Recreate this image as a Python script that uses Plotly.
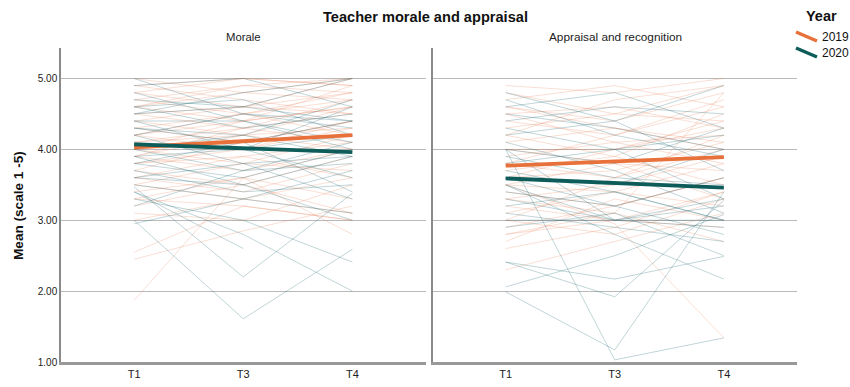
import plotly.graph_objects as go
from plotly.subplots import make_subplots

# ---------------- data ----------------
times = ["T1", "T3", "T4"]
panels = ["Morale", "Appraisal and recognition"]
years = ["2019", "2020"]
y_ticks = [1, 2, 3, 4, 5]
y_tick_labels = ["1.00", "2.00", "3.00", "4.00", "5.00"]

# group means (thick lines)
mean_morale_2019 = [4.03, 4.12, 4.20]
mean_morale_2020 = [4.07, 4.02, 3.96]
mean_appraisal_2019 = [3.77, 3.83, 3.89]
mean_appraisal_2020 = [3.59, 3.53, 3.46]

# individual teacher trajectories (thin lines)
morale_2019 = [
    [5.0, 4.8, 5.0], [4.9, 5.0, 4.9], [4.8, 4.6, 5.0], [4.7, 4.9, 4.8],
    [4.6, 4.4, 4.9], [4.6, 4.8, 4.7], [4.5, 4.6, 4.8], [4.4, 4.2, 4.6],
    [4.4, 4.6, 4.5], [4.3, 4.5, 4.7], [4.3, 4.1, 4.4], [4.2, 4.4, 4.6],
    [4.2, 4.0, 4.3], [4.1, 4.3, 4.5], [4.1, 4.2, 4.0], [4.0, 4.4, 4.6],
    [4.0, 3.8, 4.2], [4.0, 4.1, 4.4], [3.9, 4.2, 4.3], [3.9, 3.7, 4.0],
    [3.8, 4.0, 4.4], [3.8, 3.9, 3.6], [3.7, 4.1, 4.2], [3.7, 3.5, 3.9],
    [3.6, 3.9, 4.1], [3.6, 3.4, 3.8], [3.5, 3.8, 3.7], [3.4, 3.6, 4.0],
    [3.3, 3.2, 3.0], [3.2, 3.5, 3.1], [3.0, 3.3, 3.6], [2.55, 3.2, 3.0],
    [2.45, 2.85, 3.2], [1.87, 3.6, 3.3], [4.8, 5.0, 4.9], [4.5, 4.3, 4.1],
    [4.2, 4.5, 4.8], [3.3, 3.6, 2.8], [4.9, 4.7, 4.5], [3.1, 3.0, 3.5],
    [4.6, 4.9, 5.0], [3.5, 3.3, 3.1], [4.7, 4.5, 4.2], [3.9, 4.3, 4.7],
]
morale_2020 = [
    [5.0, 4.5, 4.4], [4.9, 5.0, 4.6], [4.7, 4.6, 5.0], [4.6, 4.3, 4.5],
    [4.5, 4.6, 4.4], [4.4, 4.4, 4.1], [4.4, 4.0, 4.6], [4.3, 4.2, 4.7],
    [4.2, 4.5, 4.3], [4.2, 3.8, 3.9], [4.1, 4.0, 4.2], [4.0, 3.7, 3.8],
    [4.0, 4.2, 3.9], [3.9, 4.0, 3.6], [3.8, 3.6, 4.0], [3.8, 4.1, 4.4],
    [3.7, 3.4, 3.5], [3.6, 3.8, 3.3], [3.5, 3.3, 3.7], [3.4, 2.6, None],
    [3.47, 2.2, 3.38], [3.4, 2.8, 2.0], [3.0, 1.61, 2.59], [3.3, 3.0, 2.41],
    [2.95, 3.3, 3.1], [4.6, 4.7, 4.2], [4.8, 4.4, 4.0], [3.9, 3.5, 3.0],
    [4.3, 4.1, 3.4], [3.6, 3.5, 3.9], [4.5, 4.8, 5.0], [3.2, 3.7, 4.1],
]
appraisal_2019 = [
    [4.9, 4.8, 5.0], [4.8, 4.5, 4.9], [4.7, 4.9, 4.6], [4.6, 4.4, 4.8],
    [4.5, 4.6, 4.3], [4.4, 4.2, 4.7], [4.3, 4.5, 4.4], [4.2, 3.9, 4.5],
    [4.1, 4.3, 4.0], [4.0, 4.0, 4.4], [4.0, 3.8, 3.7], [3.9, 4.1, 4.2],
    [3.8, 3.6, 4.0], [3.7, 3.9, 3.5], [3.6, 3.7, 4.1], [3.5, 3.4, 3.8],
    [3.5, 3.8, 3.3], [3.4, 3.2, 3.6], [3.3, 3.5, 3.9], [3.2, 3.0, 3.4],
    [3.1, 3.4, 3.2], [3.0, 2.8, 3.3], [2.9, 3.2, 3.6], [2.8, 3.0, 2.9],
    [2.7, 3.3, 3.0], [2.6, 2.9, 3.4], [2.3, 2.7, 3.1], [3.5, 2.95, 1.34],
    [4.5, 4.1, 3.8], [3.0, 3.6, 4.2], [2.8, 3.1, 4.8], [4.2, 4.7, 4.9],
    [3.8, 4.2, 4.6], [3.3, 3.1, 2.7], [4.6, 4.3, 4.1], [3.6, 4.0, 4.3],
]
appraisal_2020 = [
    [4.8, 4.4, 4.9], [4.6, 4.8, 4.3], [4.5, 4.3, 4.0], [4.4, 4.6, 4.5],
    [4.3, 4.0, 4.2], [4.2, 4.4, 3.7], [4.0, 3.8, 4.3], [4.0, 3.0, 3.0],
    [3.9, 3.6, 3.5], [3.8, 4.0, 3.3], [3.7, 3.4, 3.0], [3.6, 3.2, 3.6],
    [3.5, 3.0, 3.2], [3.4, 3.2, 2.8], [3.3, 3.0, 3.3], [3.2, 3.4, 3.0],
    [3.1, 2.9, 2.7], [3.0, 3.0, 2.9], [4.0, 1.03, 1.34], [1.99, 1.17, 3.4],
    [2.41, 1.92, 3.28], [2.41, 2.17, 2.49], [2.06, 2.5, 3.08], [3.5, 2.8, 2.17],
    [2.9, 3.1, 2.5], [4.7, 4.2, 3.9], [3.6, 3.5, 4.0], [4.1, 3.7, 3.1],
]

# ---------------- style ----------------
ORANGE = "#E8703A"
TEAL = "#0E5C59"
THIN = {"2019": "rgba(232,120,80,0.30)", "2020": "rgba(40,110,120,0.36)"}
MAIN = {"2019": ORANGE, "2020": TEAL}
FONT = "Arial, Liberation Sans, sans-serif"

W, H = 850, 387
ML, MR, MT, MB = 61, 53, 48, 25
pw, ph = W - ML - MR, H - MT - MB

fig = make_subplots(rows=1, cols=2, horizontal_spacing=(432 - 425) / pw)

groups = [
    (1, "2019", morale_2019, mean_morale_2019),
    (1, "2020", morale_2020, mean_morale_2020),
    (2, "2019", appraisal_2019, mean_appraisal_2019),
    (2, "2020", appraisal_2020, mean_appraisal_2020),
]
for col, yr, rows, _ in groups:
    for r in rows:
        fig.add_trace(go.Scatter(x=times, y=r, mode="lines",
                                 line=dict(color=THIN[yr], width=0.8),
                                 connectgaps=False, hoverinfo="skip",
                                 showlegend=False), row=1, col=col)
for col, yr, _, m in groups:
    fig.add_trace(go.Scatter(x=times, y=m, mode="lines",
                             line=dict(color=MAIN[yr], width=3.8),
                             name=yr, showlegend=False), row=1, col=col)

for col in (1, 2):
    fig.update_xaxes(type="category", categoryorder="array", categoryarray=times,
                     range=[-0.67, 2.67], showgrid=False, zeroline=False,
                     showline=True, linecolor="#999999", linewidth=2.5,
                     ticks="", automargin=False,
                     tickfont=dict(size=11, color="#222", family=FONT),
                     row=1, col=col)
    fig.update_yaxes(range=[1, 5.43], tickvals=y_ticks, ticktext=y_tick_labels,
                     showgrid=True, gridcolor="#b9b9b9", gridwidth=1,
                     zeroline=False, showline=True, linecolor="#8a8a8a",
                     linewidth=1.5, ticks="", showticklabels=(col == 1),
                     automargin=False,
                     tickfont=dict(size=10, color="#222", family=FONT),
                     row=1, col=col)


def px_x(p):
    return (p - ML) / pw


def px_y(p):
    return (H - MB - p) / ph


annotations = [
    dict(text="<b>Teacher morale and appraisal</b>", x=px_x(425), y=px_y(17),
         font=dict(size=14.6, color="#111")),
    dict(text=panels[0], x=px_x(243), y=px_y(37), font=dict(size=11.3, color="#222")),
    dict(text=panels[1], x=px_x(615), y=px_y(37), font=dict(size=11.8, color="#222")),
    dict(text="<b>Year</b>", x=px_x(821), y=px_y(16), font=dict(size=14.5, color="#111")),
    dict(text=years[0], x=px_x(820), y=px_y(37), xanchor="left",
         font=dict(size=12, color="#111")),
    dict(text=years[1], x=px_x(820), y=px_y(53), xanchor="left",
         font=dict(size=12, color="#111")),
    dict(text="<b>Mean (scale 1 -5)</b>", x=px_x(18), y=px_y(206), textangle=-90,
         font=dict(size=13.6, color="#111")),
]
for a in annotations:
    a.update(xref="paper", yref="paper", showarrow=False)
    a.setdefault("xanchor", "center")
    a["yanchor"] = "middle"
    a["font"]["family"] = FONT
fig.update_layout(annotations=annotations)

for yr, y0 in ((years[0], 32), (years[1], 48)):
    fig.add_shape(type="line", xref="paper", yref="paper",
                  x0=px_x(796), y0=px_y(y0), x1=px_x(817), y1=px_y(y0 + 9),
                  line=dict(color=MAIN[yr], width=3.5))

fig.update_layout(width=W, height=H, margin=dict(l=ML, r=MR, t=MT, b=MB),
                  plot_bgcolor="white", paper_bgcolor="white",
                  font=dict(family=FONT), showlegend=False)

fig.write_html("out.html", config={"displayModeBar": False},
               post_script="document.body.style.margin='0';"
                           "document.body.style.overflow='hidden';")
